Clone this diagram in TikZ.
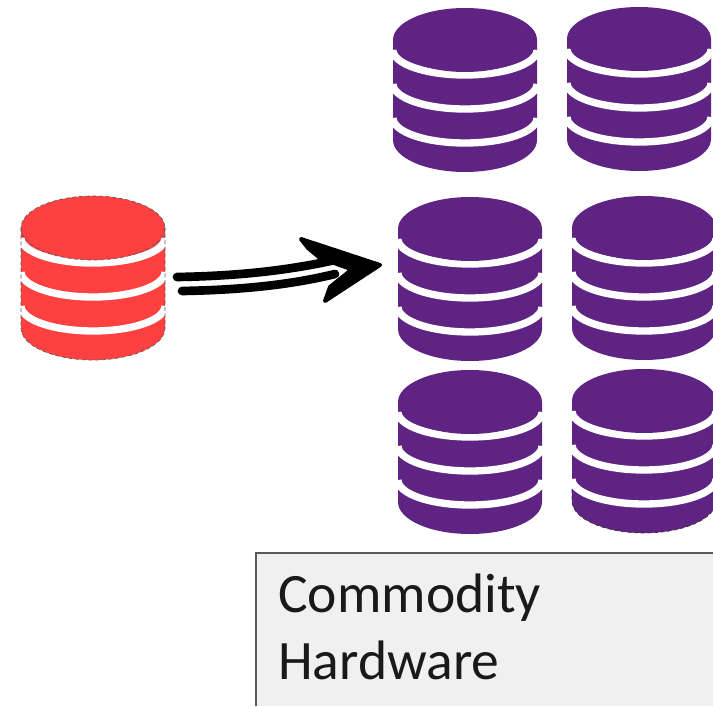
\documentclass[tikz,border=0pt]{standalone}
\usepackage{fontspec}
\setmainfont{Carlito}
\definecolor{dbpurple}{HTML}{5F2483}
\definecolor{dbred}{HTML}{FF4040}
\definecolor{boxgrey}{HTML}{F0F0F0}
\tikzset{
  pics/dbstack/.style={code={
    \fill [#1] (-72,0) -- (-72,100) arc[start angle=180,end angle=0,x radius=72,y radius=32] -- (72,0) -- cycle;
    \foreach \off in {10,44,78}
      \draw [white,line width=5.5pt] (-72,\off) arc[start angle=180,end angle=0,x radius=72,y radius=25];
    \fill [#1] (0,0) circle[x radius=72,y radius=32];
  }},
  roughline/.style={draw=black!65,densely dashed,line width=0.5pt},
  stroke/.style={black,line width=6.5pt,line cap=round},
  boxtext/.style={font=\fontsize{41.7}{50}\selectfont,text=black!90,align=left,anchor=north west,inner sep=0pt}
}
\begin{document}
\begin{tikzpicture}[x=0.75pt,y=0.75pt,yscale=-1,xscale=1]
\useasboundingbox (0,0) rectangle (713,706);

% begin stacks
\pic [transform shape] at (93,228) {dbstack=dbred};
\draw [roughline] (21,228) -- (21,328) arc[start angle=180,end angle=0,x radius=72,y radius=32] -- (165,228);
\draw [roughline] (93,228) circle[x radius=72,y radius=32];

\foreach \cx/\cy in {465/40,639/39,470/229,644/228,470/402,644/401}
  \pic [transform shape] at (\cx,\cy) {dbstack=dbpurple};

\draw [roughline,draw=black!80] (572,489) -- (572,501) arc[start angle=180,end angle=0,x radius=72,y radius=32] -- (713,495);

% begin arrow
\coordinate (upperstart) at (177,277);
\coordinate (upperend) at (335,260);
\coordinate (lowerstart) at (182,291);
\coordinate (lowerend) at (335,274);
\coordinate (headtop) at (301,239);
\coordinate (headtip) at (380,265);
\coordinate (headlow) at (325,301);
\draw [stroke] (upperstart) .. controls (240,276) and (290,270) .. (upperend);
\draw [stroke] (lowerstart) .. controls (240,290) and (290,285) .. (lowerend);
\fill [black,line join=round,draw=black,line width=3pt] (headtop) -- (headtip) -- (headlow) -- (330,287) -- (350,271) -- (348,268) -- (320,258) -- (308,248) -- cycle;

% begin box
\fill [boxgrey] (256,553) rectangle (713,706);
\draw [black!65,line width=1.5pt] (256,706) -- (256,553) -- (713,553);
\node [boxtext] (boxlabel) at (278,574) {Commodity\\Hardware};

\end{tikzpicture}
\end{document}
